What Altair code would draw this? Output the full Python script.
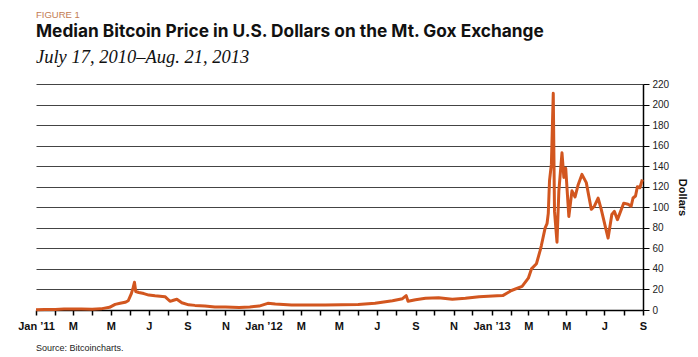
import altair as alt
import pandas as pd

# ---- data ----
dates = [
    "2011-01-01", "2011-01-15", "2011-02-01", "2011-02-15", "2011-03-01", "2011-03-15",
    "2011-04-01", "2011-04-15", "2011-04-29", "2011-05-08", "2011-05-16", "2011-05-24",
    "2011-05-29", "2011-06-03", "2011-06-06", "2011-06-08", "2011-06-10", "2011-06-15",
    "2011-06-23", "2011-07-01", "2011-07-11", "2011-07-27", "2011-08-04", "2011-08-07",
    "2011-08-15", "2011-08-23", "2011-09-03", "2011-09-13", "2011-09-29", "2011-10-15",
    "2011-11-01", "2011-11-23", "2011-12-10", "2011-12-25",
    "2012-01-08", "2012-01-20", "2012-02-15", "2012-03-14", "2012-04-09", "2012-05-05",
    "2012-06-01", "2012-06-28", "2012-07-26", "2012-08-11", "2012-08-17", "2012-08-20",
    "2012-09-01", "2012-09-17", "2012-10-08", "2012-10-30", "2012-11-20", "2012-12-12",
    "2013-01-10", "2013-01-19", "2013-02-02", "2013-02-19", "2013-03-01", "2013-03-06",
    "2013-03-14", "2013-03-20", "2013-03-22", "2013-03-28", "2013-03-31", "2013-04-02",
    "2013-04-04", "2013-04-07", "2013-04-10", "2013-04-12", "2013-04-16", "2013-04-19",
    "2013-04-24", "2013-04-27", "2013-04-30", "2013-05-05", "2013-05-10", "2013-05-15",
    "2013-05-20", "2013-05-26", "2013-06-02", "2013-06-10", "2013-06-15", "2013-06-21",
    "2013-06-26", "2013-07-03", "2013-07-07", "2013-07-13", "2013-07-17", "2013-07-22",
    "2013-08-01", "2013-08-08", "2013-08-13", "2013-08-16", "2013-08-20", "2013-08-23",
    "2013-08-27", "2013-08-31",
]
prices = [
    0.3, 0.4, 0.6, 1.0, 0.9, 0.9,
    0.8, 1.1, 2.6, 5.5, 6.5, 7.5,
    9.0, 16, 22, 27, 18, 17,
    16, 14.5, 13.8, 13, 8.5, 9,
    10.5, 7, 5, 4.5, 4, 3,
    2.8, 2.4, 3, 3.8,
    6.5, 5.8, 4.8, 4.9, 4.9, 5.1,
    5.3, 6.5, 9, 11, 14, 8.5,
    10, 11.5, 12, 10.5, 11.5, 13,
    13.8, 14, 19, 23, 31, 40,
    45, 58, 63, 80, 84, 94,
    126, 142, 211, 96, 66, 116,
    153, 129, 138, 91, 116, 110,
    122, 132, 124, 98, 101, 109,
    98, 80, 70, 93, 96, 88,
    104, 103, 101, 109, 111, 120,
    119, 127,
]

tick_months = [(2011, m) for m in range(1, 13)] + [(2012, m) for m in range(1, 13)] + \
              [(2013, m) for m in range(1, 10)]
tick_labels = [
    "Jan \u201911", "", "M", "", "M", "", "J", "", "S", "", "N", "",
    "Jan \u201912", "", "M", "", "M", "", "J", "", "S", "", "N", "",
    "Jan \u201913", "", "M", "", "M", "", "J", "", "S",
]
y_ticks = list(range(0, 221, 20))

FIGURE_LABEL = "FIGURE 1"
TITLE = "Median Bitcoin Price in U.S. Dollars on the Mt. Gox Exchange"
SUBTITLE = "July 17, 2010\u2013Aug. 21, 2013"
SOURCE = "Source: Bitcoincharts."

LINE_COLOR = "#d2561f"

df = pd.DataFrame({"date": dates, "price": prices})

# label expression built from the tick lists
expr = "''"
for (yr, mo), lab in reversed(list(zip(tick_months, tick_labels))):
    key = f"{yr}-{mo:02d}"
    expr = f"(utcFormat(datum.value, '%Y-%m') == '{key}' ? '{lab}' : {expr})"

tick_values = [alt.DateTime(year=y, month=m, date=1, utc=True) for y, m in tick_months]

line = alt.Chart(df).mark_line(color=LINE_COLOR, strokeWidth=3, strokeJoin="round").encode(
    x=alt.X(
        "date:T",
        scale=alt.Scale(
            type="utc",
            domain=[alt.DateTime(year=2011, month=1, date=1, utc=True),
                    alt.DateTime(year=2013, month=9, date=1, utc=True)],
            nice=False,
        ),
        axis=alt.Axis(
            values=tick_values,
            labelExpr=expr,
            title=None,
            grid=False,
            domainColor="#000",
            domainWidth=1.5,
            tickColor="#000",
            tickWidth=1.5,
            tickSize=5,
            labelFont="Liberation Sans",
            labelFontWeight="bold",
            labelFontSize=11,
            labelColor="#111",
            labelPadding=5,
            labelFlush=False,
            labelOverlap=False,
        ),
    ),
    y=alt.Y(
        "price:Q",
        scale=alt.Scale(domain=[0, 220], nice=False),
        axis=alt.Axis(
            orient="right",
            values=y_ticks,
            title="Dollars",
            titleFont="Liberation Sans",
            titleFontWeight="bold",
            titleFontSize=11,
            titleColor="#111",
            titlePadding=8,
            grid=True,
            gridColor="#444444",
            gridWidth=1,
            domainColor="#000",
            domainWidth=1.5,
            tickColor="#000",
            tickWidth=1,
            tickSize=6,
            labelFont="Liberation Sans",
            labelFontSize=10,
            labelColor="#222",
            labelPadding=3,
        ),
    ),
)

text_df = pd.DataFrame({"a": [0]})

fig_label = alt.Chart(text_df).mark_text(
    text=FIGURE_LABEL, align="left", baseline="alphabetic", font="Liberation Sans",
    fontSize=9.5, color="#c27b52",
).encode(x=alt.value(0), y=alt.value(-66.5))

title = alt.Chart(text_df).mark_text(
    text=TITLE, align="left", baseline="alphabetic", font="Inter",
    fontSize=17.3, fontWeight="bold", color="#111",
).encode(x=alt.value(0), y=alt.value(-47.5))

subtitle = alt.Chart(text_df).mark_text(
    text=SUBTITLE, align="left", baseline="alphabetic", font="Liberation Serif",
    fontSize=18.5, fontStyle="italic", color="#111",
).encode(x=alt.value(0), y=alt.value(-21.5))

source = alt.Chart(text_df).mark_text(
    text=SOURCE, align="left", baseline="alphabetic", font="Liberation Sans",
    fontSize=9, color="#222",
).encode(x=alt.value(0), y=alt.value(267))

chart = alt.layer(line, fig_label, title, subtitle, source).properties(
    width=607,
    height=226,
    autosize=alt.AutoSizeParams(type="none"),
    padding={"left": 36, "top": 84, "right": 55, "bottom": 47},
    background="white",
).configure_view(strokeWidth=0)

chart.save("out.html", embed_options={"renderer": "svg", "actions": False})
